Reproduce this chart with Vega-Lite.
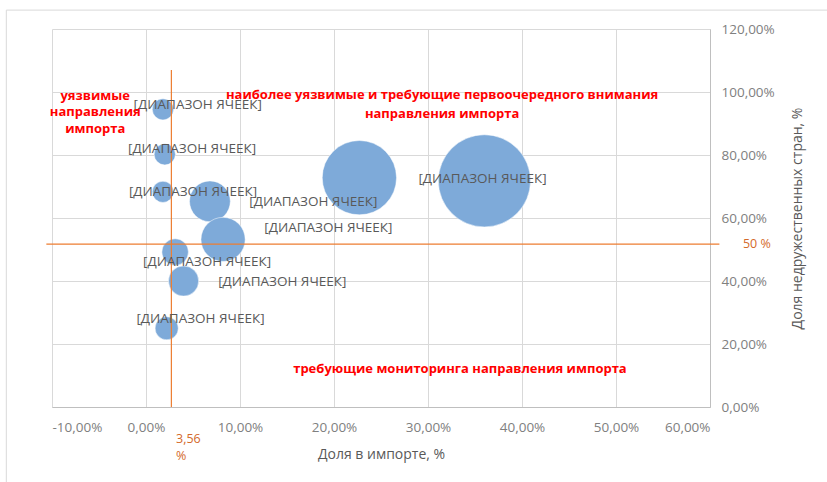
{
  "$schema": "https://vega.github.io/schema/vega-lite/v6.json",
  "width": 658,
  "height": 378,
  "autosize": {"type": "none"},
  "padding": {"left": 52, "top": 29, "right": 117, "bottom": 75},
  "background": "white",
  "config": {
    "locale": {"number": {"decimal": ",", "thousands": " ", "grouping": [3], "currency": ["", " ₽"], "minus": "-"}},
    "view": {"stroke": null},
    "font": "Open Sans",
    "axis": {"labelFont": "Open Sans", "titleFont": "Open Sans", "labelColor": "#808080", "titleColor": "#595959", "labelFontSize": 13.5, "titleFontSize": 14, "titleFontWeight": "normal", "gridColor": "#d9d9d9", "ticks": false, "domainColor": "#bfbfbf", "labelOverlap": false}
  },
  "datasets": {
    "bubbles": [
      {"share": 0.018, "unfriendly": 0.945, "volume": 5.3, "lx": 0.055, "ly": 0.958, "label": "[ДИАПАЗОН ЯЧЕЕК]"},
      {"share": 0.020, "unfriendly": 0.802, "volume": 5.3, "lx": 0.049, "ly": 0.819, "label": "[ДИАПАЗОН ЯЧЕЕК]"},
      {"share": 0.018, "unfriendly": 0.683, "volume": 5.3, "lx": 0.050, "ly": 0.682, "label": "[ДИАПАЗОН ЯЧЕЕК]"},
      {"share": 0.068, "unfriendly": 0.653, "volume": 19.6, "lx": 0.178, "ly": 0.651, "label": "[ДИАПАЗОН ЯЧЕЕК]"},
      {"share": 0.082, "unfriendly": 0.532, "volume": 23.0, "lx": 0.194, "ly": 0.567, "label": "[ДИАПАЗОН ЯЧЕЕК]"},
      {"share": 0.227, "unfriendly": 0.728, "volume": 65.0, "lx": 0.358, "ly": 0.724, "label": ""},
      {"share": 0.360, "unfriendly": 0.718, "volume": 100.0, "lx": 0.358, "ly": 0.724, "label": "[ДИАПАЗОН ЯЧЕЕК]"},
      {"share": 0.031, "unfriendly": 0.492, "volume": 8.3, "lx": 0.065, "ly": 0.460, "label": "[ДИАПАЗОН ЯЧЕЕК]"},
      {"share": 0.040, "unfriendly": 0.400, "volume": 10.7, "lx": 0.145, "ly": 0.398, "label": "[ДИАПАЗОН ЯЧЕЕК]"},
      {"share": 0.022, "unfriendly": 0.250, "volume": 6.3, "lx": 0.058, "ly": 0.278, "label": "[ДИАПАЗОН ЯЧЕЕК]"}
    ],
    "notes": [
      {"x": -0.054, "y": 0.987, "t": "уязвимые"},
      {"x": -0.054, "y": 0.9365, "t": "направления"},
      {"x": -0.054, "y": 0.883, "t": "импорта"},
      {"x": 0.315, "y": 0.99, "t": "наиболее уязвимые и требующие первоочередного внимания"},
      {"x": 0.315, "y": 0.93, "t": "направления импорта"},
      {"x": 0.334, "y": 0.12, "t": "требующие мониторинга направления импорта"}
    ]
  },
  "layer": [
    {
      "data": {"values": [{"x1": -0.1486, "x2": 0.9, "y1": 1.26, "y2": -0.4}]},
      "mark": {"type": "rect", "fill": null, "stroke": "#d9d9d9", "strokeWidth": 1},
      "encoding": {"x": {"field": "x1", "type": "quantitative"}, "x2": {"field": "x2"}, "y": {"field": "y1", "type": "quantitative"}, "y2": {"field": "y2"}}
    },
    {
      "data": {"name": "bubbles"},
      "mark": {"type": "circle", "opacity": 1, "color": "#7eaad9", "stroke": "white", "strokeWidth": 0.5},
      "encoding": {
        "x": {"field": "share", "type": "quantitative", "scale": {"domain": [-0.1, 0.6], "nice": false, "zero": false}, "axis": {"format": ".2%", "values": [-0.1, 0, 0.1, 0.2, 0.3, 0.4, 0.5, 0.6], "title": "Доля в импорте, %", "labelPadding": 13, "titlePadding": 14, "domain": true}},
        "y": {"field": "unfriendly", "type": "quantitative", "scale": {"domain": [0, 1.2], "nice": false}, "axis": {"orient": "right", "format": ".2%", "values": [0, 0.2, 0.4, 0.6, 0.8, 1.0, 1.2], "title": "Доля недружественных стран, %", "labelPadding": 11, "titleAngle": -90, "titlePadding": 30, "domain": true}},
        "size": {"field": "volume", "type": "quantitative", "scale": {"domain": [0, 100], "range": [0, 8495]}, "legend": null}
      }
    },
    {
      "data": {"values": [{"x": 0.027, "y1": 0, "y2": 1.07}]},
      "mark": {"type": "rule", "color": "#ed7d31", "strokeWidth": 1.2},
      "encoding": {"x": {"field": "x", "type": "quantitative"}, "y": {"field": "y1", "type": "quantitative"}, "y2": {"field": "y2"}}
    },
    {
      "data": {"values": [{"x1": -0.106, "x2": 0.61, "y": 0.517}]},
      "mark": {"type": "rule", "color": "#ed7d31", "strokeWidth": 1.2},
      "encoding": {"x": {"field": "x1", "type": "quantitative"}, "x2": {"field": "x2"}, "y": {"field": "y", "type": "quantitative"}}
    },
    {
      "data": {"name": "bubbles"},
      "mark": {"type": "text", "fontSize": 13.5, "color": "#595959", "font": "Open Sans"},
      "encoding": {"x": {"field": "lx", "type": "quantitative"}, "y": {"field": "ly", "type": "quantitative"}, "text": {"field": "label"}}
    },
    {
      "data": {"name": "notes"},
      "mark": {"type": "text", "fontSize": 13, "fontWeight": "bold", "color": "#ff0000", "font": "Open Sans"},
      "encoding": {"x": {"field": "x", "type": "quantitative"}, "y": {"field": "y", "type": "quantitative"}, "text": {"field": "t"}}
    },
    {
      "data": {"values": [{"x": 0.032, "y": -0.102, "t": "3,56"}, {"x": 0.032, "y": -0.155, "t": "%"}, {"x": 0.635, "y": 0.517, "t": "50 %"}]},
      "mark": {"type": "text", "fontSize": 12.5, "color": "#d46a2a", "font": "Open Sans", "align": "left"},
      "encoding": {"x": {"field": "x", "type": "quantitative"}, "y": {"field": "y", "type": "quantitative"}, "text": {"field": "t"}}
    }
  ]
}
